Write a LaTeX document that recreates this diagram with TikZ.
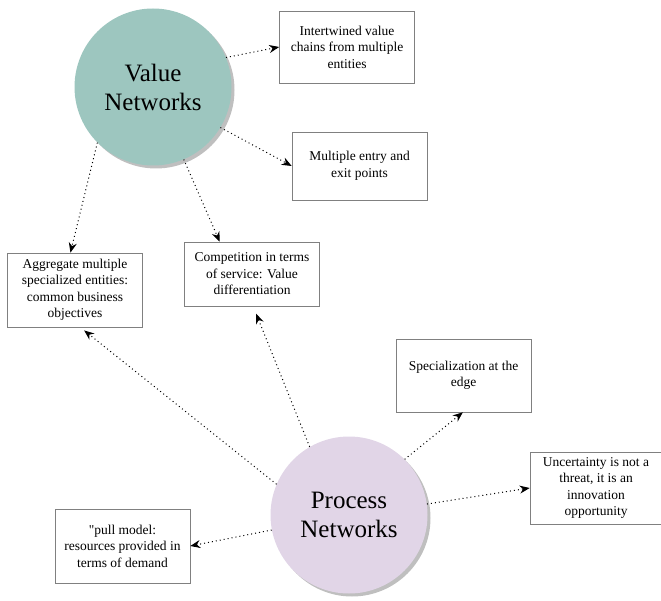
\documentclass[tikz,border=0pt]{standalone}
\usepackage{fontspec}
\setmainfont{Liberation Serif}[Ligatures=TeXOff]
\usepackage{tikz}
\usetikzlibrary{shapes, shadows, arrows.meta}

\definecolor{valuefill}{RGB}{157,198,191}
\definecolor{processfill}{RGB}{225,213,231}

\begin{document}
\begin{tikzpicture}[
		x=1pt, y=-1pt,
		net/.style={circle, minimum size=157pt, inner sep=0pt, align=center,
			font=\fontsize{25}{29}\selectfont,
			drop shadow={shadow xshift=3pt, shadow yshift=-3pt, fill=black!25, opacity=1}},
		box/.style={draw=black!50, line width=0.6pt, minimum width=135pt, align=center,
			font=\fontsize{13.5}{16.5}\selectfont},
		arrow/.style={-{Stealth[length=10pt, width=8pt]}, line width=1pt,
			dash pattern=on 1pt off 3pt}
	]
	\useasboundingbox (0, 0) rectangle (661, 601);
	
	\node[net, fill=valuefill] (vn) at (153, 87) {Value\\Networks};
	\node[net, fill=processfill] (pn) at (349, 515) {Process\\Networks};
	
	\node[box, minimum height=72pt] (iv) at (347, 47) {Intertwined value\\chains from multiple\\entities};
	\node[box, minimum height=68pt] (me) at (359.5, 166) {Multiple entry and\\exit points};
	\node[box, minimum height=74pt] (ag) at (75, 290) {Aggregate multiple\\specialized entities:\\common business\\objectives};
	\node[box, minimum height=64pt] (cp) at (252, 274) {Competition in terms\\of service: Value\\differentiation};
	\node[box, minimum height=73pt] (sp) at (463.5, 375.5) {Specialization at the\\edge};
	\node[box, minimum width=132pt, minimum height=72pt] (un) at (596, 488) {Uncertainty is not a\\threat, it is an\\innovation\\opportunity};
	\node[box, minimum height=74pt] (pm) at (122.5, 546) {"pull model:\\resources provided in\\terms of demand};
	
	\draw[arrow] (vn.22) -- (iv.west);
	\draw[arrow] (vn.-31) -- (me.west);
	\draw[arrow] (vn.225) -- (ag.97);
	\draw[arrow] (vn.-67) -- (cp.135);
	
	\draw[arrow, shorten >=5pt] (pn.157) -- (ag.-82);
	\draw[arrow, shorten >=8pt] (pn.120) -- (cp.-88);
	\draw[arrow] (pn.45) -- (sp.-91);
	\draw[arrow] (pn.8) -- (un.west);
	\draw[arrow] (pn.191) -- (pm.east);
\end{tikzpicture}
\end{document}
